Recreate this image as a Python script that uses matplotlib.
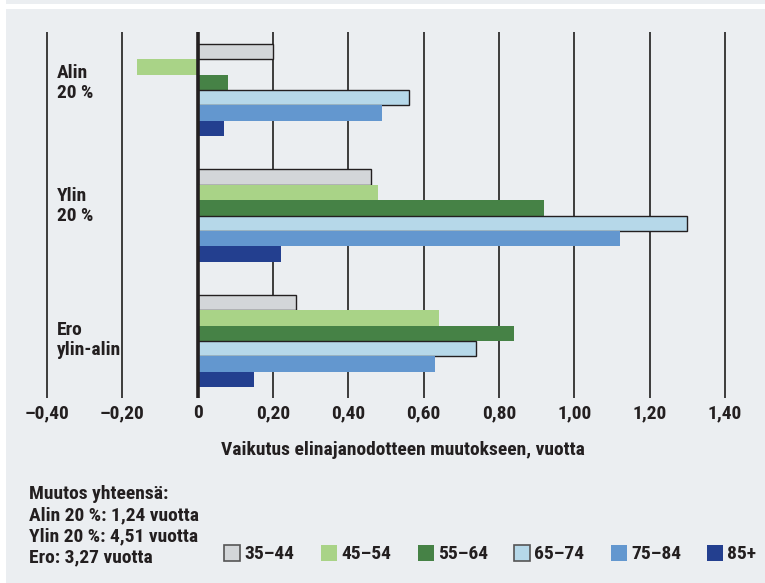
import matplotlib
matplotlib.use("Agg")
import matplotlib.pyplot as plt
from matplotlib.patches import Rectangle
from matplotlib import font_manager
from matplotlib.font_manager import FontProperties
import numpy as np

groups = ["Alin\n20 %", "Ylin\n20 %", "Ero\nylin-alin"]
age_groups = ["35–44", "45–54", "55–64", "65–74", "75–84", "85+"]
alin = [0.20, -0.16, 0.08, 0.56, 0.49, 0.07]
ylin = [0.46, 0.48, 0.92, 1.30, 1.12, 0.22]
ero = [0.26, 0.64, 0.84, 0.74, 0.63, 0.15]
colors = ["#d3d6d9", "#a9d387", "#468246", "#b6d8e9", "#6397cf", "#233f8f"]
edged = [True, False, False, True, False, False]
xticks = [-0.40, -0.20, 0, 0.20, 0.40, 0.60, 0.80, 1.00, 1.20, 1.40]
xticklabels = ["–0,40", "–0,20", "0", "0,20", "0,40", "0,60", "0,80", "1,00", "1,20", "1,40"]
xlabel = "Vaikutus elinajanodotteen muutokseen, vuotta"
summary = ["Muutos yhteensä:", "Alin 20 %: 1,24 vuotta", "Ylin 20 %: 4,51 vuotta", "Ero: 3,27 vuotta"]


def pick_font():
    def wnum(w):
        if isinstance(w, (int, float)):
            return w
        return font_manager.weight_dict.get(str(w).lower(), 400)
    ranked = []
    for f in font_manager.fontManager.ttflist:
        n = f.name
        fn = f.fname.lower()
        st = str(f.stretch).lower()
        cond = ('narrow' in n.lower() or 'condensed' in n.lower() or 'narrow' in fn
                or 'condensed' in fn or st in ('condensed', 'semi-condensed', 'extra-condensed'))
        if not cond:
            continue
        if 'italic' in fn or 'oblique' in fn or str(f.style) != 'normal':
            continue
        w = wnum(f.weight)
        if w < 600 or w > 750:
            continue
        pref = 5
        if 'liberation' in fn:
            pref = 0
        elif 'roboto' in fn:
            pref = 1
        elif 'opensans' in fn or 'open sans' in n.lower():
            pref = 2
        elif 'dejavu' in fn:
            pref = 3
        ranked.append((pref, abs(w - 700), f.fname))
    if ranked:
        ranked.sort()
        return ranked[0][2]
    return None


path = pick_font()
if path:
    def FP(size):
        return FontProperties(fname=path, size=size)
else:
    def FP(size):
        return FontProperties(family=['Roboto', 'DejaVu Sans'], weight='bold', size=size * 0.92)

TXT = "#231f20"
BG = "#ebeef1"
W, H = 765, 583
FS = 14
fig = plt.figure(figsize=(W / 100, H / 100), dpi=100)
fig.patch.set_facecolor("white")
fig.patches.append(Rectangle((6 / W, 0), 1 - 6 / W, 1 - 9 / H, transform=fig.transFigure,
                             facecolor=BG, edgecolor="none", zorder=-10))
fig.patches.append(Rectangle((6 / W, 1 - 4 / H), 1 - 6 / W, 4 / H, transform=fig.transFigure,
                             facecolor=BG, edgecolor="none", zorder=-10))

ax = fig.add_axes([39.5 / W, 1 - 398 / H, 693 / W, 366 / H])
ax.set_facecolor("none")
ax.set_xlim(-0.42, 1.42)
ax.set_ylim(2.454, -0.462)
for s in ax.spines.values():
    s.set_visible(False)

data = np.array([alin, ylin, ero])
h = 0.1222
for gi in range(len(groups)):
    for i in range(len(age_groups)):
        y = gi + (i - 2.5) * h
        ax.barh(y, data[gi, i], height=h, color=colors[i],
                edgecolor=TXT if edged[i] else "none", linewidth=1.0 if edged[i] else 0,
                zorder=3)

for xt in xticks:
    if xt == 0:
        ax.axvline(0, color=TXT, lw=2.6, zorder=4)
    else:
        ax.axvline(xt, color="#3c3c3c", lw=1.4, zorder=1)

ax.set_xticks(xticks)
ax.set_xticklabels(xticklabels, color=TXT)
for lab in ax.get_xticklabels():
    lab.set_fontproperties(FP(FS))
ax.tick_params(axis='x', length=0, pad=4.5)
ax.set_yticks([])

label_y = [-0.056, 0.924, 1.992]
for gi, g in enumerate(groups):
    ax.text(-0.3735, label_y[gi], g, fontproperties=FP(FS), color=TXT,
            ha='left', va='center', linespacing=1.15)

fig.text(403 / W, 1 - 450 / H, xlabel, fontproperties=FP(FS), color=TXT,
         ha='center', va='center')

for k, line in enumerate(summary):
    fig.text(29 / W, 1 - (494 + 21.3 * k) / H, line, fontproperties=FP(FS),
             color=TXT, ha='left', va='center')

leg_x = [224, 321, 418, 514, 611, 707]
for i, lab in enumerate(age_groups):
    fig.patches.append(Rectangle((leg_x[i] / W, 1 - 561 / H), 16 / W, 16 / H,
                                 transform=fig.transFigure, facecolor=colors[i],
                                 edgecolor="#555555" if edged[i] else "none",
                                 linewidth=1.2 if edged[i] else 0))
    fig.text((leg_x[i] + 20) / W, 1 - 554 / H, lab, fontproperties=FP(FS),
             color=TXT, ha='left', va='center')

fig.savefig("out.png", dpi=100, facecolor=fig.get_facecolor())
